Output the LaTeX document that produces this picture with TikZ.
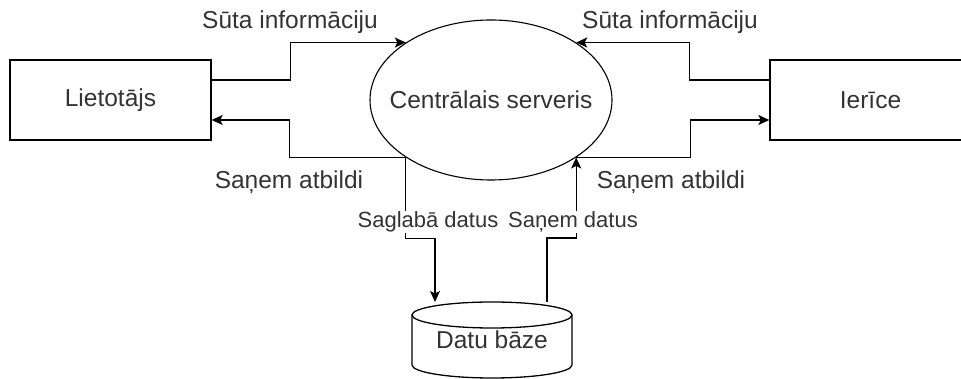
\documentclass[tikz,border=0pt]{standalone}
\usepackage{fontspec}
\setmainfont{Liberation Sans}
\usetikzlibrary{shapes.geometric,arrows.meta}
\tikzset{
  box/.style={draw,line width=1.3pt,minimum width=201pt,minimum height=80pt,inner sep=0pt},
  flow/.style={line width=1.3pt,->},
  lbl/.style={font=\fontsize{24.5}{28}\selectfont,text=black!80,inner sep=1pt},
}
\begin{document}
\begin{tikzpicture}[x=1pt,y=1pt,>={Stealth[length=11pt,width=10pt,inset=2.5pt]},font=\fontsize{24.5}{28}\selectfont]
	\useasboundingbox (0,0) rectangle (961,379);
	\node[box] (lu) at (110.5,279) {\textcolor{black!80}{Lietotājs}};
	\node[box] (ier) at (870.5,279) {\textcolor{black!80}{Ierīce}};
	\node[draw,ellipse,line width=1.1pt,minimum width=242pt,minimum height=160pt,inner sep=0pt] (srv) at (491,279) {\makebox[0pt]{\textcolor{black!80}{Centrālais serveris}}};
	% datu baze
	\draw[line width=1.3pt] (412,64) -- (412,14) arc[start angle=180,end angle=360,x radius=80,y radius=13] -- (572,64);
	\draw[line width=1.3pt] (492,64) ellipse[x radius=80,y radius=13];
	\node[lbl] (db) at (492,39) {Datu bāze};
	\coordinate (dbin) at (435,77);
	\coordinate (dbout) at (547,77);
	% savienojumi
	\draw[flow] ([yshift=20pt]lu.east) -- ++(79,0) |- (srv.146);
	\draw[flow] (srv.214) -- ++(-116,0) |- ([yshift=-20pt]lu.east);
	\draw[flow] ([yshift=20pt]ier.west) -- ++(-80,0) |- (srv.34);
	\draw[flow] (srv.-34) -- ++(114,0) |- ([yshift=-20pt]ier.west);
	\draw[flow] (srv.214) -- ++(0,-81) -| (dbin);
	\draw[flow] (dbout) -- ++(0,64) -| (srv.-34);
	% teksti
	\node[lbl] (t1) at (290,357) {Sūta informāciju};
	\node[lbl] (t2) at (670,357) {Sūta informāciju};
	\node[lbl] (t3) at (289,197) {Saņem atbildi};
	\node[lbl] (t4) at (671,197) {Saņem atbildi};
	\node[lbl,fill=white,font=\fontsize{22}{26}\selectfont] (t5) at (428,157) {Saglabā datus};
	\node[lbl,fill=white,font=\fontsize{22}{26}\selectfont] (t6) at (573,157) {Saņem datus};
\end{tikzpicture}
\end{document}
